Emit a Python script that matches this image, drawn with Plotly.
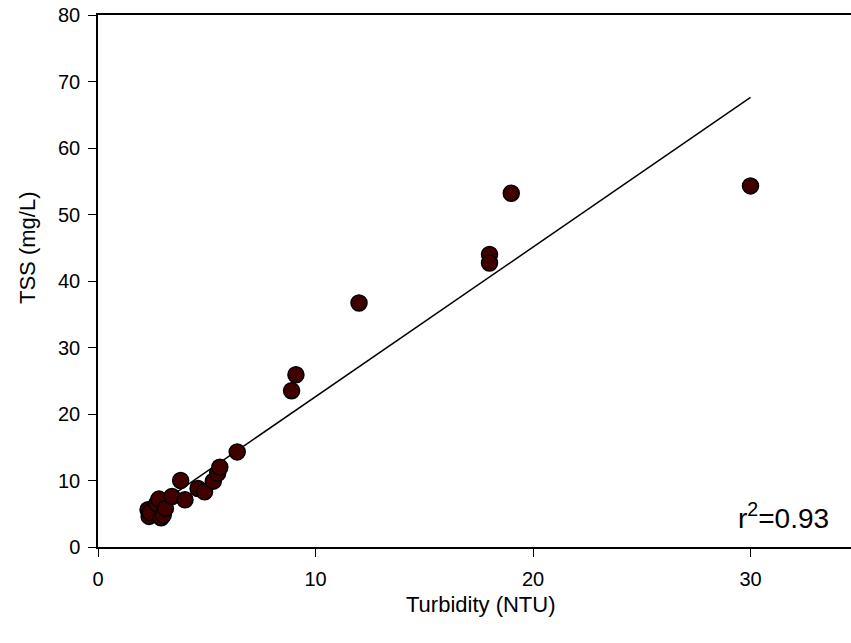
import plotly.graph_objects as go

# Data (Turbidity NTU vs TSS mg/L)
turbidity = [2.3, 2.35, 2.4, 2.7, 2.8, 2.9, 3.0, 3.1, 3.4, 3.8, 4.0, 4.6, 4.9, 5.3, 5.5, 5.6, 6.4,
             8.9, 9.1, 12.0, 18.0, 18.0, 19.0, 30.0]
tss = [5.6, 4.6, 5.2, 6.5, 7.2, 4.4, 4.8, 5.8, 7.6, 10.0, 7.1, 8.8, 8.3, 9.9, 11.1, 12.0, 14.3,
       23.5, 25.9, 36.7, 44.0, 42.7, 53.2, 54.3]

# Regression line coefficients as drawn
slope = 2.25
intercept = 0.1
r2_text = "r<sup>2</sup>=0.93"

x_ticks = [0, 10, 20, 30]
y_ticks = [0, 10, 20, 30, 40, 50, 60, 70, 80]

FONT = "Arial, Liberation Sans, sans-serif"

x_line = [min(turbidity), max(turbidity)]
y_line = [slope * v + intercept for v in x_line]

fig = go.Figure()
fig.add_trace(go.Scatter(x=x_line, y=y_line, mode="lines",
                         line=dict(color="black", width=1.5), showlegend=False,
                         hoverinfo="skip"))
fig.add_trace(go.Scatter(x=turbidity, y=tss, mode="markers",
                         marker=dict(size=16, color="#400000",
                                     line=dict(color="black", width=1.5)),
                         showlegend=False, cliponaxis=False))

W, H = 851, 643
ml, mr, mt, mb = 98, 0, 15, 96
PW, PH = W - ml - mr, H - mt - mb


def px(x):
    return (x - ml) / PW


def py(y):
    return (H - mb - y) / PH


fig.update_layout(
    width=W, height=H,
    margin=dict(l=ml, r=mr, t=mt, b=mb),
    paper_bgcolor="white", plot_bgcolor="white",
    font=dict(family=FONT, color="black", size=20),
    xaxis=dict(range=[0, 34.62], tickvals=x_ticks, ticks="outside", ticklen=8,
               tickwidth=1.3, tickcolor="black", showline=True, linecolor="black",
               linewidth=1.5, mirror=True, showgrid=False, zeroline=False,
               tickfont=dict(size=20, family=FONT), ticklabelstandoff=5),
    yaxis=dict(range=[0, 80], tickvals=y_ticks, ticks="outside", ticklen=8,
               tickwidth=1.3, tickcolor="black", showline=True, linecolor="black",
               linewidth=1.5, showgrid=False, zeroline=False,
               tickfont=dict(size=20, family=FONT), ticklabelstandoff=4),
    annotations=[
        dict(text="Turbidity (NTU)", x=px(481), y=py(604), xref="paper", yref="paper",
             showarrow=False, xanchor="center", yanchor="middle",
             font=dict(size=22, family=FONT)),
        dict(text="TSS (mg/L)", x=px(27), y=py(248), xref="paper", yref="paper",
             showarrow=False, xanchor="center", yanchor="middle", textangle=-90,
             font=dict(size=22, family=FONT)),
        dict(text=r2_text, x=px(831), y=py(516), xref="paper", yref="paper",
             showarrow=False, xanchor="right", yanchor="middle",
             font=dict(size=28, family=FONT)),
    ],
)

fig.write_html("out.html")
